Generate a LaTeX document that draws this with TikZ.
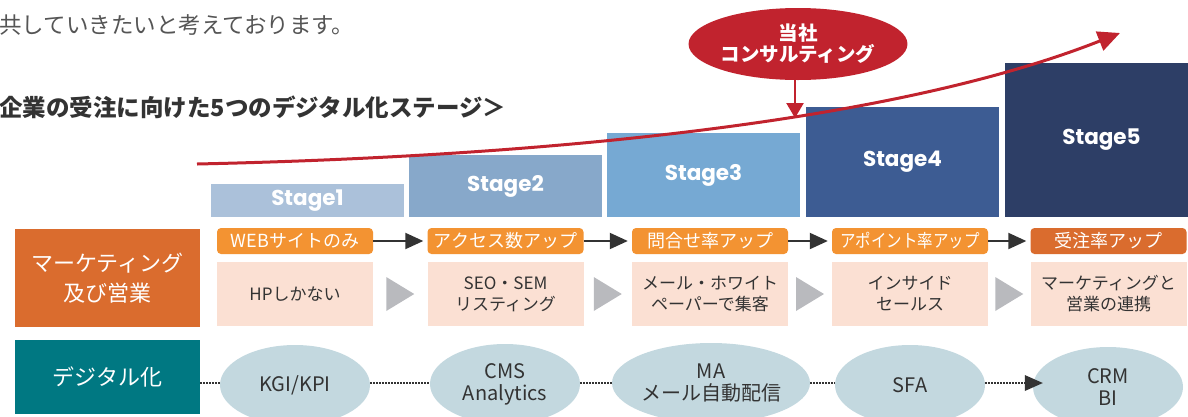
\documentclass[tikz,border=0pt]{standalone}
\usepackage{fontspec}
\setmainfont{Noto Sans CJK JP}
\newfontfamily\stagefont{Poppins}
\newfontfamily\narrowjp{Noto Sans CJK JP}[FakeStretch=0.86]
\usetikzlibrary{shapes.geometric,arrows.meta,calc}
\definecolor{stA}{HTML}{ABC1DA}
\definecolor{stB}{HTML}{87A8CA}
\definecolor{stC}{HTML}{76A9D3}
\definecolor{stD}{HTML}{3D5C93}
\definecolor{stE}{HTML}{2D3E66}
\definecolor{pillor}{HTML}{F39332}
\definecolor{pilldk}{HTML}{DA6C2E}
\definecolor{mkor}{HTML}{DA6C2E}
\definecolor{tealc}{HTML}{007882}
\definecolor{pinkc}{HTML}{FBE0D3}
\definecolor{ellc}{HTML}{C3D8DF}
\definecolor{graytri}{HTML}{B9BABE}
\definecolor{redc}{HTML}{C1232E}
\definecolor{darktx}{HTML}{333333}
\definecolor{introgray}{HTML}{555555}
\begin{document}
\begin{tikzpicture}[x=1pt,y=-1pt,
  stagebox/.style={rectangle, inner sep=0pt, minimum width=193pt, text=white,
    font=\stagefont\bfseries\fontsize{21.5pt}{24pt}\selectfont},
  pill/.style={rectangle, rounded corners=4pt, fill=pillor, inner sep=0pt,
    minimum width=156pt, minimum height=26pt, text=white,
    font=\fontsize{18pt}{20pt}\selectfont},
  pinkbox/.style={rectangle, fill=pinkc, inner sep=0pt, minimum width=156pt,
    minimum height=64pt, text=darktx, align=center,
    font=\fontsize{17pt}{21pt}\selectfont},
  sidebox/.style={rectangle, inner sep=0pt, minimum width=185pt, text=white,
    align=center, font=\fontsize{22pt}{30pt}\selectfont},
  ell/.style={ellipse, fill=ellc, inner sep=0pt, minimum width=150pt,
    minimum height=80pt, text=darktx, align=center,
    font=\fontsize{20pt}{22pt}\selectfont},
  pillarrow/.style={draw=darktx, line width=2pt, -{Triangle[length=18pt,width=16pt]}},
  dotline/.style={draw=darktx, line width=2pt, dash pattern=on 1.6pt off 1.4pt},
  grayarrow/.style={fill=graytri},
  redline/.style={draw=redc, line width=3pt}
]
\useasboundingbox (0,0) rectangle (1188,416);
\clip (0,0) rectangle (1188,416);

% intro texts
\node[anchor=west, inner sep=0pt, text=introgray, font=\fontsize{22.5pt}{24pt}\selectfont] (intro) at (-1,25) {共していきたいと考えております。};
\node[anchor=west, inner sep=0pt, text=darktx, font=\bfseries\fontsize{23.5pt}{26pt}\selectfont] (head) at (-1,107) {企業の受注に向けた5つのデジタル化ステージ＞};

% stage boxes
\node[stagebox, fill=stA, minimum height=33pt] (s1) at (307.5,200.5) {Stage1};
\node[stagebox, fill=stB, minimum height=62pt] (s2) at (505.5,186) {Stage2};
\node[stagebox, fill=stC, minimum height=84pt] (s3) at (703.5,175) {Stage3};
\node[stagebox, fill=stD, minimum height=110pt] (s4) at (902.5,162) {Stage4};
\node[stagebox, fill=stE, minimum height=154pt] (s5) at (1101.5,140) {Stage5};

% red trend curve
\coordinate (c0) at (197,164);
\coordinate (c1) at (560,156);
\coordinate (c2) at (900,120);
\coordinate (c3) at (1120,33);
\draw[redline, -{Triangle[length=22pt,width=20pt]}] (c0) .. controls (c1) and (c2) .. (c3);

% consulting ellipse
\node[ellipse, fill=redc, inner sep=0pt, minimum width=190pt, minimum height=72pt,
  text=white, align=center, font=\bfseries\fontsize{19.5pt}{21pt}\selectfont] (cons) at (798,44) {当社\\コンサルティング};
\coordinate (constip) at (795,118);
\draw[draw=redc, line width=2.5pt, -{Triangle[length=15pt,width=17pt]}] (cons.south -| constip) -- (constip);

% side labels
\node[sidebox, fill=mkor, minimum height=98pt] (L1) at (107.5,278) {マーケティング\\及び営業};
\node[sidebox, fill=tealc, minimum height=74pt] (L2) at (107.5,376.5) {デジタル化};

% pills
\node[pill] (p1) at (295,241) {WEBサイトのみ};
\node[pill] (p2) at (505.5,241) {アクセス数アップ};
\node[pill] (p3) at (710,241) {問合せ率アップ};
\node[pill, font=\narrowjp\fontsize{18pt}{20pt}\selectfont] (p4) at (910,241) {アポイント率アップ};
\node[pill, fill=pilldk] (p5) at (1108.5,241) {受注率アップ};
\foreach \a/\b in {p1/p2,p2/p3,p3/p4,p4/p5}{
  \draw[pillarrow, shorten >=4pt] (\a.east) -- (\b.west);
}

% pink boxes
\node[pinkbox] (k1) at (295,294) {HPしかない};
\node[pinkbox] (k2) at (505.5,294) {SEO・SEM\\リスティング};
\node[pinkbox] (k3) at (710,294) {メール・ホワイト\\ペーパーで集客};
\node[pinkbox] (k4) at (910,294) {インサイド\\セールス};
\node[pinkbox] (k5) at (1108.5,294) {マーケティングと\\営業の連携};
\foreach \a/\b [count=\i] in {k1/k2,k2/k3,k3/k4,k4/k5}{
  \coordinate (g\i) at ($(\a.east)!0.5!(\b.west)$);
  \fill[grayarrow] ([xshift=-14pt,yshift=17pt]g\i) -- ([xshift=14pt]g\i) -- ([xshift=-14pt,yshift=-17pt]g\i) -- cycle;
}

% ellipses
\node[ell] (e1) at (295,385) {KGI/KPI};
\node[ell] (e2) at (505,384) {CMS\\Analytics};
\node[ell] (e3) at (711,383) {MA\\メール自動配信};
\node[ell] (e4) at (910,385) {SFA};
\node[ell] (e5) at (1108,387) {CRM\\BI};
\coordinate (dy) at (0,383);
\draw[dotline] (L2.east |- dy) -- (e1.west |- dy);
\draw[dotline] (e1.east |- dy) -- (e2.west |- dy);
\draw[dotline] (e2.east |- dy) -- (e3.west |- dy);
\draw[dotline] (e3.east |- dy) -- (e4.west |- dy);
\draw[dotline] (e4.east |- dy) -- ([xshift=-2pt]e5.west |- dy);
\draw[fill=darktx, draw=none] ([xshift=10pt]e5.west |- dy) -- ([xshift=-8pt,yshift=8pt]e5.west |- dy) -- ([xshift=-8pt,yshift=-8pt]e5.west |- dy) -- cycle;
\end{tikzpicture}
\end{document}
